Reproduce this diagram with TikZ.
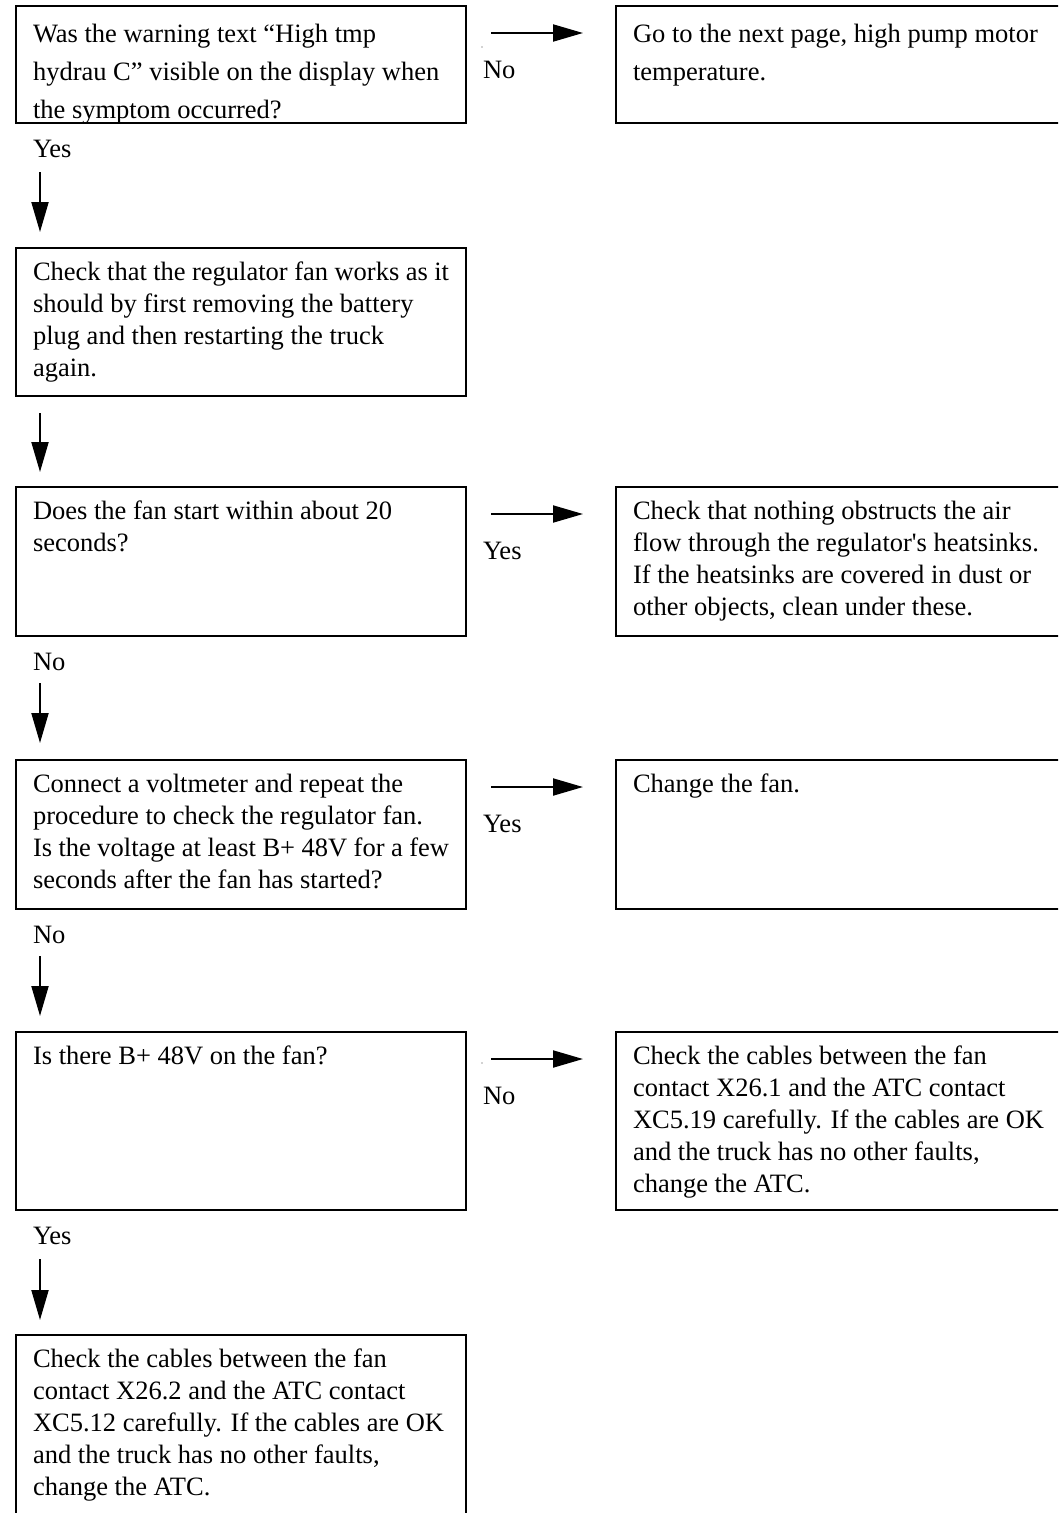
\documentclass[tikz,border=0pt]{standalone}
\usepackage{fontspec}
\setmainfont{Liberation Serif}
\usetikzlibrary{arrows.meta}
% fixed-size text block, lines set one by one
\newcommand\steptext[3]{\parbox[t][#1][t]{#2}{\baselineskip=32pt #3}}
\newcommand\Lone[1]{\hbox to\hsize{\rule{0pt}{32pt}#1\hfil}}
\newcommand\Lnext[1]{\hbox to\hsize{#1\hfil}}
\begin{document}
\begin{tikzpicture}[x=1pt,y=-1pt,
  every node/.style={font=\fontsize{26.5pt}{32pt}\selectfont, inner sep=0pt, outer sep=0pt},
  stepbox/.style={draw, line width=2.6pt, anchor=north west, inner xsep=17pt, inner ysep=0pt},
  answer/.style={anchor=base west},
  flow/.style={line width=2pt, -{Triangle[length=30pt,width=17pt]}}]
\useasboundingbox (0,0) rectangle (1058,1513);
\clip (0,0) rectangle (1058,1513);

% left column: questions and actions
\node[stepbox] (q1) at (16,6) {\steptext{117pt}{416pt}{\baselineskip=38pt
  \hbox to\hsize{\rule{0pt}{36pt}Was the warning text “High tmp\hfil}\Lnext{hydrau C” visible on the display when}\Lnext{the symptom occurred?}}};
\node[stepbox] (q2) at (16,248) {\steptext{148pt}{416pt}{%
  \Lone{Check that the regulator fan works as it}\Lnext{should by first removing the battery}\Lnext{plug and then restarting the truck}\Lnext{again.}}};
\node[stepbox] (q3) at (16,487) {\steptext{149pt}{416pt}{%
  \Lone{Does the fan start within about 20}\Lnext{seconds?}}};
\node[stepbox] (q4) at (16,760) {\steptext{149pt}{416pt}{%
  \Lone{Connect a voltmeter and repeat the}\Lnext{procedure to check the regulator fan.}\Lnext{Is the voltage at least B+ 48V for a few}\Lnext{seconds after the fan has started?}}};
\node[stepbox] (q5) at (16,1032) {\steptext{178pt}{416pt}{%
  \Lone{Is there B+ 48V on the fan?}}};
\node[stepbox] (q6) at (16,1335) {\steptext{250pt}{416pt}{%
  \Lone{Check the cables between the fan}\Lnext{contact X26.2 and the ATC contact}\Lnext{XC5.12 carefully. If the cables are OK}\Lnext{and the truck has no other faults,}\Lnext{change the ATC.}}};

% right column: outcomes
\node[stepbox] (a1) at (616,6) {\steptext{117pt}{470pt}{\baselineskip=38pt
  \hbox to\hsize{\rule{0pt}{36pt}Go to the next page, high pump motor\hfil}\Lnext{temperature.}}};
\node[stepbox] (a2) at (616,487) {\steptext{149pt}{470pt}{%
  \Lone{Check that nothing obstructs the air}\Lnext{flow through the regulator\textquotesingle s heatsinks.}\Lnext{If the heatsinks are covered in dust or}\Lnext{other objects, clean under these.}}};
\node[stepbox] (a3) at (616,760) {\steptext{149pt}{470pt}{%
  \Lone{Change the fan.}}};
\node[stepbox] (a4) at (616,1032) {\steptext{178pt}{470pt}{%
  \Lone{Check the cables between the fan}\Lnext{contact X26.1 and the ATC contact}\Lnext{XC5.19 carefully. If the cables are OK}\Lnext{and the truck has no other faults,}\Lnext{change the ATC.}}};

% answers beside the side arrows
\node[answer] (n1) at ([xshift=17pt,yshift=-72pt]q1.north east) {No};
\node[answer] (y3) at ([xshift=17pt,yshift=-72pt]q3.north east) {Yes};
\node[answer] (y4) at ([xshift=17pt,yshift=-72pt]q4.north east) {Yes};
\node[answer] (n5) at ([xshift=17pt,yshift=-72pt]q5.north east) {No};

% answers under the boxes
\node[answer] (y1) at ([xshift=17pt,yshift=-34pt]q1.south west) {Yes};
\node[answer] (n3) at ([xshift=17pt,yshift=-34pt]q3.south west) {No};
\node[answer] (n4) at ([xshift=17pt,yshift=-34pt]q4.south west) {No};
\node[answer] (y5) at ([xshift=17pt,yshift=-34pt]q5.south west) {Yes};

% side arrows
\draw[flow] ([xshift=25pt,yshift=-27pt]q1.north east) -- ([xshift=-33pt,yshift=-27pt]a1.north west);
\draw[flow] ([xshift=25pt,yshift=-27pt]q3.north east) -- ([xshift=-33pt,yshift=-27pt]a2.north west);
\draw[flow] ([xshift=25pt,yshift=-27pt]q4.north east) -- ([xshift=-33pt,yshift=-27pt]a3.north west);
\draw[flow] ([xshift=25pt,yshift=-27pt]q5.north east) -- ([xshift=-33pt,yshift=-27pt]a4.north west);

% downward arrows
\draw[flow] ([xshift=24pt,yshift=-49pt]q1.south west) -- ([xshift=24pt,yshift=16pt]q2.north west);
\draw[flow] ([xshift=24pt,yshift=-17pt]q2.south west) -- ([xshift=24pt,yshift=15pt]q3.north west);
\draw[flow] ([xshift=24pt,yshift=-47pt]q3.south west) -- ([xshift=24pt,yshift=17pt]q4.north west);
\draw[flow] ([xshift=24pt,yshift=-47pt]q4.south west) -- ([xshift=24pt,yshift=16pt]q5.north west);
\draw[flow] ([xshift=24pt,yshift=-49pt]q5.south west) -- ([xshift=24pt,yshift=15pt]q6.north west);

% faint specks beside two of the "No" answers
\fill[gray!70] ([xshift=16pt,yshift=-41pt]q1.north east) circle (0.8pt);
\fill[gray!70] ([xshift=16pt,yshift=-31pt]q5.north east) circle (0.8pt);
\end{tikzpicture}
\end{document}
